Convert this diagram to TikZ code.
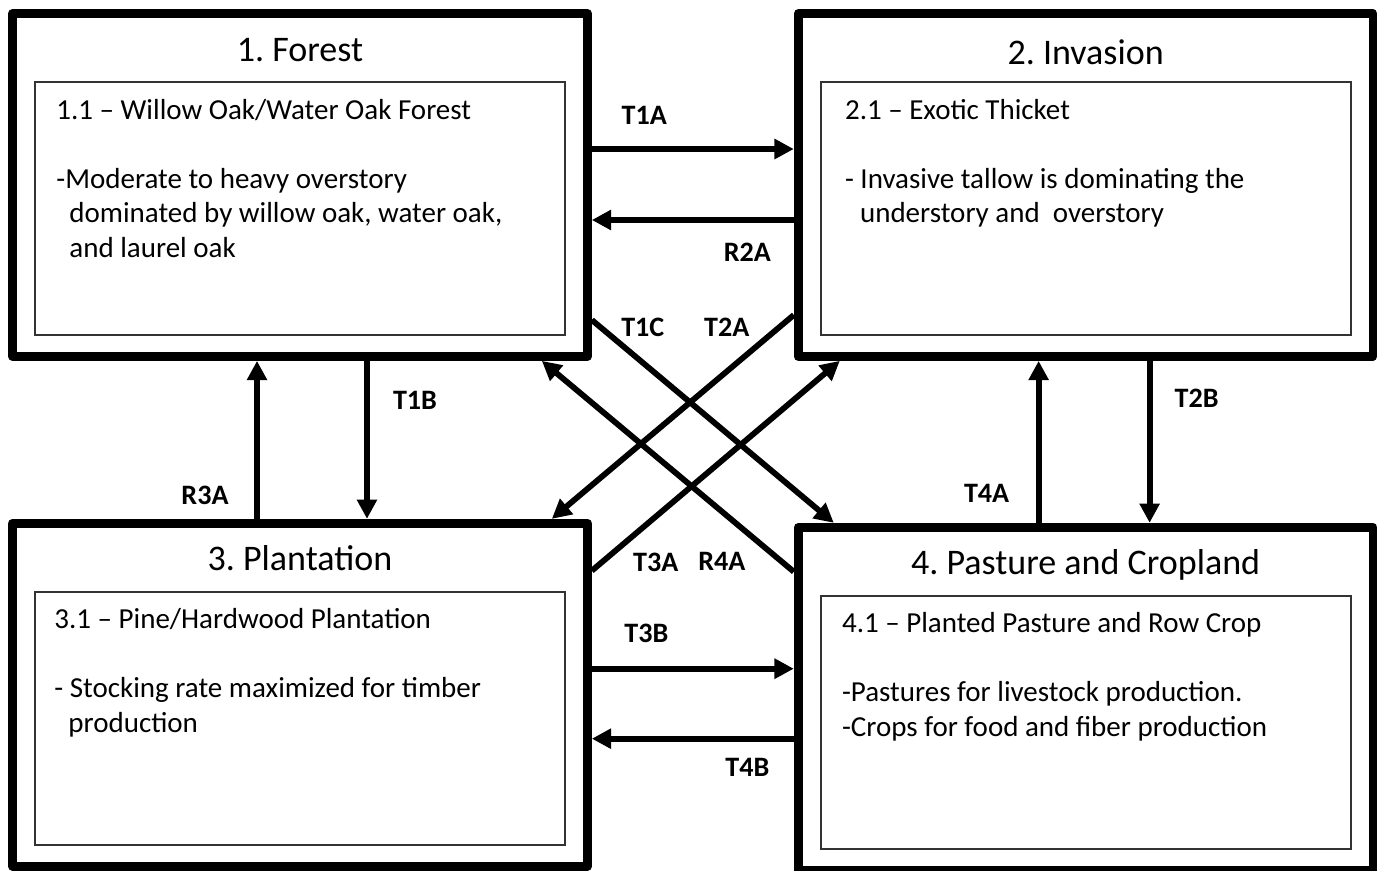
\documentclass[tikz,border=0pt]{standalone}
\usepackage{fontspec}
\setmainfont{Carlito}
\usepackage{tikz}
\usetikzlibrary{arrows.meta,positioning}
\frenchspacing

\begin{document}
\begin{tikzpicture}[
    x=0.02cm, y=-0.02cm,
    statebox/.style={rectangle, draw, line width=5pt, line join=round, minimum width=11.5cm, minimum height=6.86cm, inner sep=0pt},
    phase/.style={rectangle, draw=black!80, line width=1.1pt, minimum width=10.6cm, minimum height=5.06cm, inner sep=0pt},
    heading/.style={anchor=base, inner sep=0pt, font=\fontsize{20.5}{24}\selectfont},
    body/.style={anchor=north west, inner sep=0pt, align=left, font=\fontsize{16.5}{19.7}\selectfont},
    tlabel/.style={inner sep=0pt, font=\bfseries\fontsize{16}{19}\selectfont},
    arrow/.style={-{Triangle[length=11pt,width=11pt]}, line width=3.3pt}
]
\useasboundingbox (0,0) rectangle (1384,870);

\node[statebox] (forest) at (300,185) {};
\node[statebox, right=4.04cm of forest] (invasion) {};
\node[statebox, below=3.16cm of forest] (plant) {};
\node[statebox, below=3.24cm of invasion] (pasture) {};

\node[phase] (forest1) at ([yshift=-0.47cm]forest.center) {};
\node[phase] (invasion1) at ([yshift=-0.47cm]invasion.center) {};
\node[phase] (plant1) at ([yshift=-0.47cm]plant.center) {};
\node[phase] (pasture1) at ([yshift=-0.47cm]pasture.center) {};

\node[heading] (forestname) at ([yshift=-1.04cm]forest.north) {1. Forest};
\node[heading] (invasionname) at ([yshift=-1.1cm]invasion.north) {2. Invasion};
\node[heading] (plantname) at ([yshift=-1.04cm]plant.north) {3. Plantation};
\node[heading] (pasturename) at ([yshift=-1.04cm]pasture.north) {4. Pasture and Cropland};

\node[body] (forest1text) at ([xshift=0.44cm, yshift=-0.35cm]forest1.north west)
    {1.1 -- Willow Oak/Water Oak Forest\\[19.7pt]-Moderate to heavy overstory\\\hspace*{0.26cm}dominated by willow oak, water oak,\\\hspace*{0.26cm}and laurel oak};
\node[body] (invasion1text) at ([xshift=0.5cm, yshift=-0.35cm]invasion1.north west)
    {2.1 -- Exotic Thicket\\[19.7pt]- Invasive tallow is dominating the\\\hspace*{0.3cm}understory and\ \ overstory};
\node[body] (plant1text) at ([xshift=0.4cm, yshift=-0.35cm]plant1.north west)
    {3.1 -- Pine/Hardwood Plantation\\[19.7pt]- Stocking rate maximized for timber\\\hspace*{0.28cm}production};
\node[body] (pasture1text) at ([xshift=0.44cm, yshift=-0.35cm]pasture1.north west)
    {4.1 -- Planted Pasture and Row Crop\\[19.7pt]-Pastures for livestock production.\\-Crops for food and fiber production};

\draw[arrow] ([yshift=0.72cm]forest.east) -- ([yshift=0.72cm]forest.east -| invasion.west) node[tlabel, pos=0.26, yshift=0.68cm] (t1a) {T1A};
\draw[arrow] ([yshift=-0.7cm]invasion.west) -- ([yshift=-0.7cm]invasion.west -| forest.east) node[tlabel, pos=0.23, yshift=-0.64cm] (r2a) {R2A};
\draw[arrow] ([xshift=1.34cm]forest.south) -- ([xshift=1.34cm]forest.south |- plant.north) node[tlabel, pos=0.25, xshift=0.96cm] (t1b) {T1B};
\draw[arrow] ([xshift=-0.86cm]forest.south |- plant.north) -- ([xshift=-0.86cm]forest.south) node[tlabel, pos=0.15, xshift=-1.04cm] (r3a) {R3A};
\draw[arrow] ([xshift=1.28cm]invasion.south) -- ([xshift=1.28cm]invasion.south |- pasture.north) node[tlabel, pos=0.23, xshift=0.94cm] (t2b) {T2B};
\draw[arrow] ([xshift=-0.94cm]invasion.south |- pasture.north) -- ([xshift=-0.94cm]invasion.south) node[tlabel, pos=0.18, xshift=-1.04cm] (t4a) {T4A};
\draw[arrow] ([yshift=0.52cm]plant.east) -- ([yshift=0.52cm]plant.east -| pasture.west) node[tlabel, pos=0.27, yshift=0.7cm] (t3b) {T3B};
\draw[arrow] ([yshift=-0.88cm]plant.east -| pasture.west) -- ([yshift=-0.88cm]plant.east) node[tlabel, pos=0.23, yshift=-0.58cm] (t4b) {T4B};

\draw[arrow] ([yshift=-2.7cm]forest.east) -- ([xshift=0.8cm]pasture.north west) node[tlabel, pos=0, xshift=1.02cm, yshift=-0.14cm] (t1c) {T1C};
\draw[arrow] ([yshift=-2.6cm]invasion.west) -- ([xshift=-0.8cm]plant.north east) node[tlabel, pos=0, xshift=-1.34cm, yshift=-0.24cm] (t2a) {T2A};
\draw[arrow] ([yshift=2.48cm]plant.east) -- ([xshift=0.92cm]invasion.south west) node[tlabel, pos=0, xshift=1.28cm, yshift=0.16cm] (t3a) {T3A};
\draw[arrow] ([yshift=2.54cm]pasture.west) -- ([xshift=-1cm]forest.south east) node[tlabel, pos=0, xshift=-1.44cm, yshift=0.2cm] (r4a) {R4A};
\end{tikzpicture}
\end{document}
